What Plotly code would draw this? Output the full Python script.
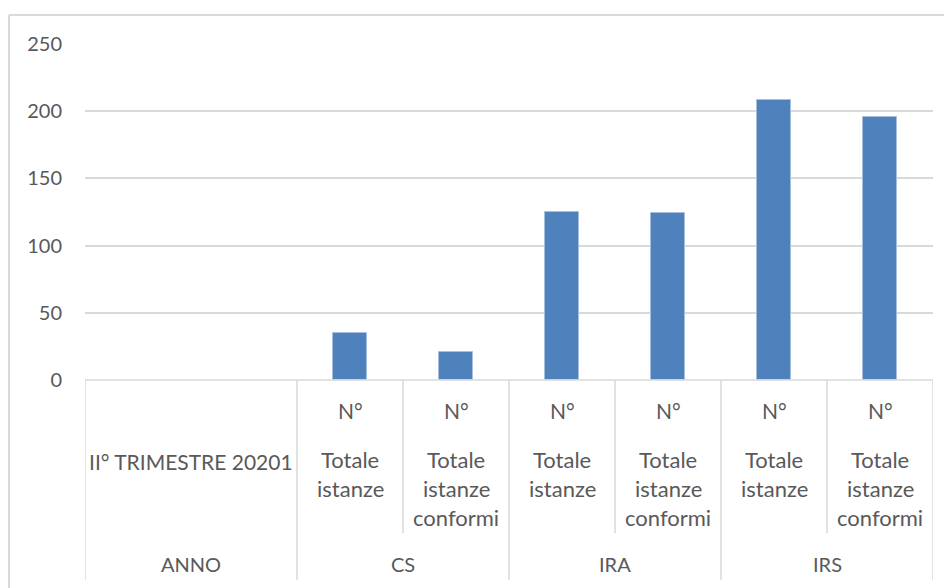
import plotly.graph_objects as go

# data
period_label = "II° TRIMESTRE 20201"
period_group = "ANNO"
groups = ["CS", "CS", "IRA", "IRA", "IRS", "IRS"]
prefix = "N°"
measures = ["Totale istanze", "Totale istanze conformi",
            "Totale istanze", "Totale istanze conformi",
            "Totale istanze", "Totale istanze conformi"]
values = [35, 21, 125, 124, 208, 196]
y_ticks = [0, 50, 100, 150, 200, 250]

FONT = "Lato"
TXT = "#595959"
LINE = "#d9d9d9"

# the page body has an 8px margin, so work in page pixels and shift
OFF = 8
W, H = 952 - OFF, 588 - OFF
L, R, T, B = 85, 933, 44, 380   # plot area in page pixels


def py(px):
    """Page pixel y -> paper y."""
    return (B - px) / (B - T)


def pxx(px):
    """Page pixel x -> paper x."""
    return (px - L) / (R - L)


# first two slots hold the period label, one slot per bar after it
xs = list(range(2, 2 + len(values)))

fig = go.Figure()
fig.add_trace(go.Bar(x=xs, y=values, width=0.32,
                     marker={"color": "#4f81bd",
                             "line": {"color": "#a7bfdf", "width": 1}},
                     hoverinfo="y"))

shapes = []
# outer chart frame (continues past the right / bottom edge)
shapes.append(dict(type="line", xref="paper", yref="paper",
                   x0=pxx(9), x1=pxx(970), y0=py(15), y1=py(15),
                   line={"color": LINE, "width": 2}))
shapes.append(dict(type="line", xref="paper", yref="paper",
                   x0=pxx(9), x1=pxx(9), y0=py(15), y1=py(600),
                   line={"color": LINE, "width": 2}))
# category axis line
shapes.append(dict(type="line", xref="x", yref="paper", x0=-0.5, x1=7.5,
                   y0=0, y1=0, line={"color": LINE, "width": 1.5}))
# long dividers between groups, short ones between measures
for xb in [-0.5, 1.5, 3.5, 5.5, 7.5]:
    shapes.append(dict(type="line", xref="x", yref="paper", x0=xb, x1=xb,
                       y0=0, y1=py(580), line={"color": LINE, "width": 1.5}))
for xb in [2.5, 4.5, 6.5]:
    shapes.append(dict(type="line", xref="x", yref="paper", x0=xb, x1=xb,
                       y0=0, y1=py(533), line={"color": LINE, "width": 1.5}))

ann = []


def label(x, ypx, text, size=21):
    ann.append(dict(x=x, y=py(ypx), xref="x", yref="paper", text=text,
                    showarrow=False, xanchor="center", yanchor="middle",
                    font={"family": FONT, "size": size, "color": TXT}))


label(0.5, 461, period_label)
label(0.5, 564, period_group, 20)
for x, m in zip(xs, measures):
    label(x, 411, prefix)
    words = m.split(" ")
    lines = [words[0], words[1]] + words[2:]
    for i, ln in enumerate(lines):
        label(x, 459 + 29 * i, ln, 22)
seen = []
for x, g in zip(xs, groups):
    if g not in seen:
        seen.append(g)
        xg = sum(xx for xx, gg in zip(xs, groups) if gg == g) / groups.count(g)
        label(xg, 564, g, 20)

fig.update_layout(
    width=W, height=H,
    margin={"l": L - OFF, "r": W - (R - OFF), "t": T - OFF,
            "b": H - (B - OFF)},
    paper_bgcolor="white", plot_bgcolor="white",
    showlegend=False, bargap=0,
    shapes=shapes, annotations=ann,
    xaxis={"range": [-0.5, 7.5], "showticklabels": False, "showgrid": False,
           "zeroline": False, "showline": False, "fixedrange": True},
    yaxis={"range": [0, 250], "tickvals": y_ticks, "showgrid": True,
           "gridcolor": LINE, "gridwidth": 1.5, "zeroline": False,
           "showline": False, "ticks": "outside", "ticklen": 18,
           "tickcolor": "rgba(0,0,0,0)",
           "tickfont": {"family": FONT, "size": 20, "color": TXT}},
)

fig.write_html("out.html")
